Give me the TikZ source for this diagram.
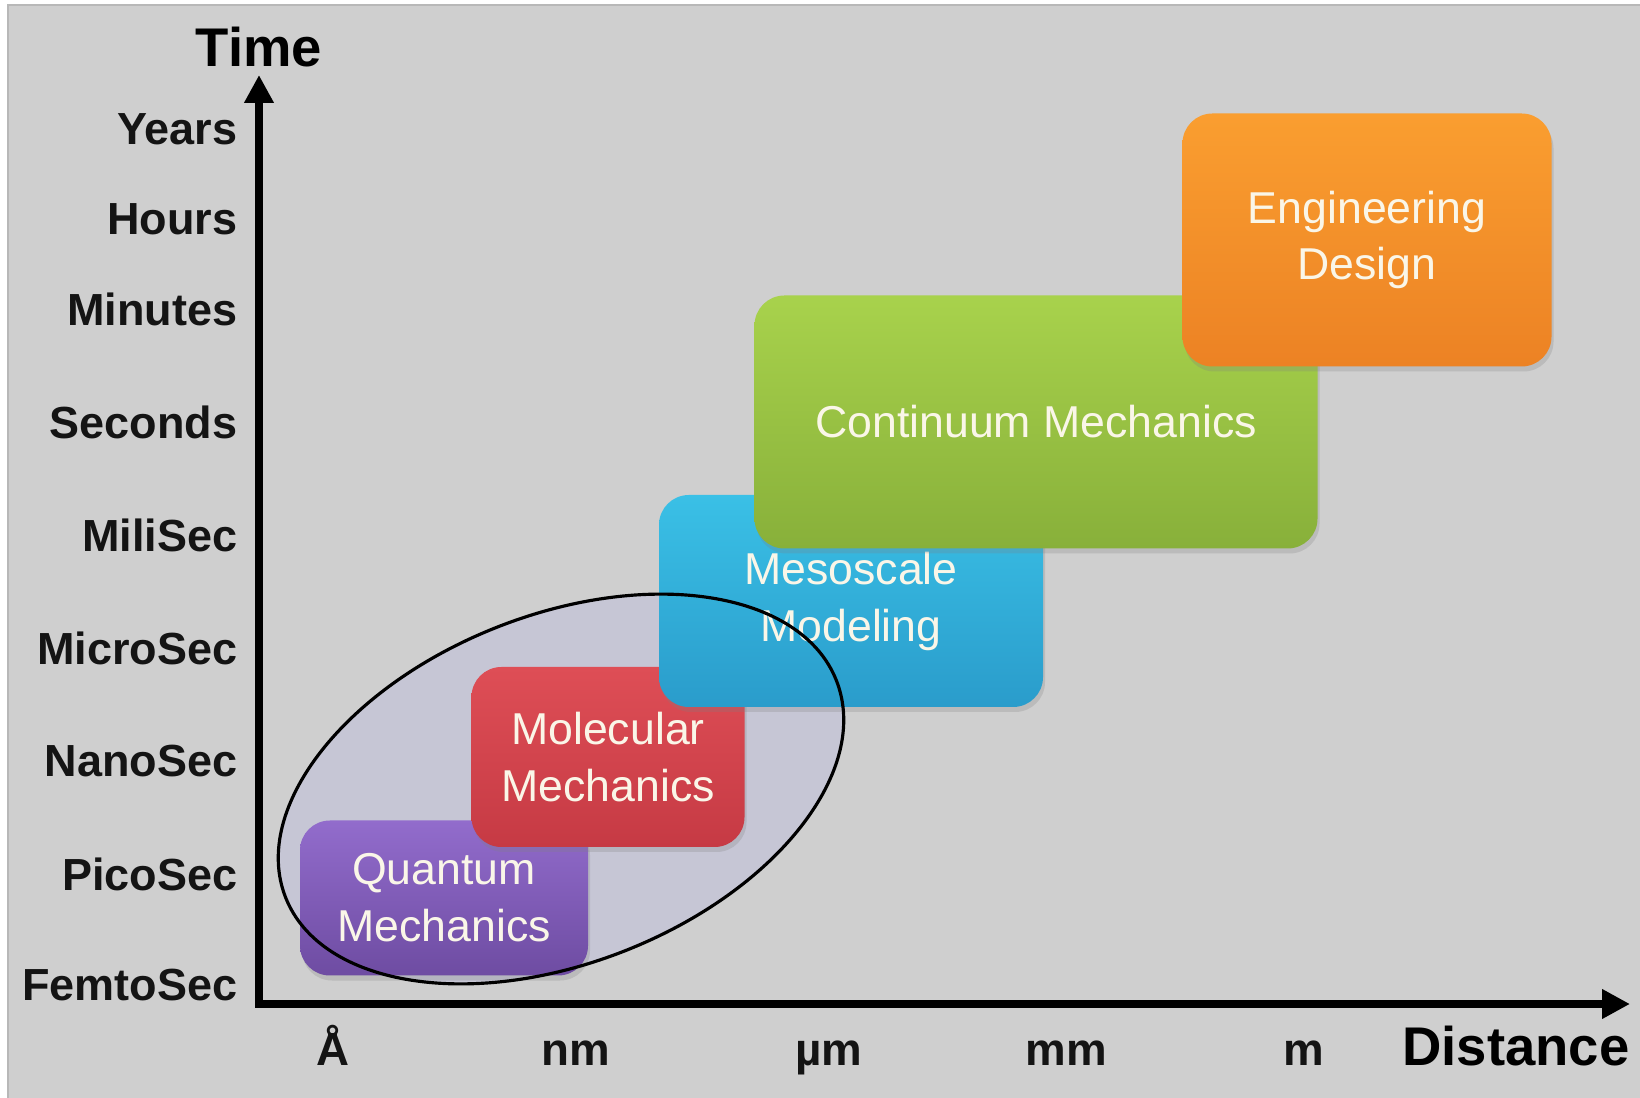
\documentclass[tikz,border=0pt]{standalone}
\usepackage{fontspec}
\setmainfont{Liberation Sans}
\usetikzlibrary{arrows.meta,positioning,shapes.geometric,shadows}

\definecolor{slidegray}{RGB}{207,207,207}
\definecolor{boxtext}{RGB}{250,246,232}
\definecolor{ringfill}{RGB}{170,170,235}
\definecolor{qmtop}{RGB}{146,108,204}
\definecolor{qmbot}{RGB}{110,76,162}
\definecolor{moltop}{RGB}{222,78,86}
\definecolor{molbot}{RGB}{198,58,68}
\definecolor{mesotop}{RGB}{58,192,230}
\definecolor{mesobot}{RGB}{42,156,203}
\definecolor{conttop}{RGB}{168,210,76}
\definecolor{contbot}{RGB}{136,176,58}
\definecolor{engtop}{RGB}{250,158,48}
\definecolor{engbot}{RGB}{236,130,36}

\begin{document}
\begin{tikzpicture}[
  x=1cm, y=1cm,
  scalebox/.style n args={2}{rounded corners=8.5pt, top color=#1, bottom color=#2, draw=none,
    drop shadow={shadow xshift=0.02cm, shadow yshift=-0.05cm, opacity=0.25},
    font=\fontsize{12.7}{16.2}\selectfont, text=boxtext, align=center, inner sep=0pt},
  ticklabel/.style={font=\fontsize{12.8}{15}\selectfont\bfseries, text=black!92, inner sep=0pt},
  unitlabel/.style={font=\fontsize{13}{15}\selectfont\bfseries, text=black!92, inner sep=0pt},
  axistitle/.style={font=\fontsize{15.5}{18}\selectfont\bfseries, text=black, inner sep=0pt},
  axisline/.style={{Triangle[length=0.28cm, width=0.28cm]}-{Triangle[length=0.28cm, width=0.28cm]}, line width=2pt, draw=black},
  focusring/.style={rotate around={21.5:(ringc)}}
]
  \useasboundingbox (0,0) rectangle (16.40,10.97);
  \fill[white] (0,0) rectangle (16.40,10.97);
  \draw[draw=black!28, fill=slidegray, line width=0.6pt] (0.08,-0.2) rectangle (16.60,10.92);

  % axes
  \coordinate (origin) at (2.59,0.93);
  \coordinate (ytip) at (2.59,10.22);
  \coordinate (xtip) at (16.30,0.93);
  \draw[axisline] (ytip) -- (origin) -- (xtip);
  \node[axistitle, anchor=base] (timetitle) at (2.59,10.30) {Time};
  \node[axistitle, anchor=base east] (disttitle) at (16.30,0.32) {Distance};

  % time scale
  \node[ticklabel, anchor=east] (tyears) at (2.38,9.68) {Years};
  \node[ticklabel, anchor=east] (thours) at (2.38,8.78) {Hours};
  \node[ticklabel, anchor=east] (tminutes) at (2.38,7.88) {Minutes};
  \node[ticklabel, anchor=east] (tseconds) at (2.38,6.75) {Seconds};
  \node[ticklabel, anchor=east] (tmili) at (2.38,5.62) {MiliSec};
  \node[ticklabel, anchor=east] (tmicro) at (2.38,4.49) {MicroSec};
  \node[ticklabel, anchor=east] (tnano) at (2.38,3.36) {NanoSec};
  \node[ticklabel, anchor=east] (tpico) at (2.38,2.23) {PicoSec};
  \node[ticklabel, anchor=east] (tfemto) at (2.38,1.12) {FemtoSec};

  % length scale
  \node[unitlabel, anchor=base] (dang) at (3.33,0.32) {Å};
  \node[unitlabel, anchor=base] (dnm) at (5.76,0.32) {nm};
  \node[unitlabel, anchor=base] (dum) at (8.29,0.32) {µm};
  \node[unitlabel, anchor=base] (dmm) at (10.66,0.32) {mm};
  \node[unitlabel, anchor=base] (dm) at (13.04,0.32) {m};

  % shaded ring round the atomistic levels
  \coordinate (ringc) at (5.61,3.08);
  \fill[focusring, ringfill, fill opacity=0.22] (ringc) ellipse [x radius=2.96, y radius=1.74];

  % modelling levels
  \node[scalebox={qmtop}{qmbot}, minimum width=2.88cm, minimum height=1.55cm] (qm) at (4.44,1.99) {Quantum\\Mechanics};
  \node[scalebox={moltop}{molbot}, minimum width=2.73cm, minimum height=1.80cm] (mol) at (6.08,3.40) {Molecular\\Mechanics};
  \node[scalebox={mesotop}{mesobot}, minimum width=3.84cm, minimum height=2.12cm] (meso) at (8.51,4.96) {Mesoscale\\Modeling};
  \node[scalebox={conttop}{contbot}, minimum width=5.63cm, minimum height=2.53cm] (cont) at (10.36,6.75) {Continuum Mechanics};
  \node[scalebox={engtop}{engbot}, minimum width=3.69cm, minimum height=2.53cm] (eng) at (13.67,8.57) {Engineering\\Design};

  \draw[focusring, line width=0.9pt] (ringc) ellipse [x radius=2.96, y radius=1.74];
\end{tikzpicture}
\end{document}
